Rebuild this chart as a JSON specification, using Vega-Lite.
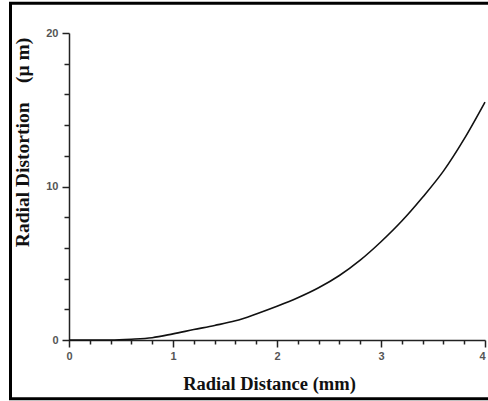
{
  "$schema": "https://vega.github.io/schema/vega-lite/v6.json",
  "width": 416,
  "height": 307,
  "autosize": {"type": "none"},
  "padding": {"left": 69, "top": 33, "right": 3, "bottom": 61},
  "background": "white",
  "config": {
    "view": {"stroke": null},
    "axis": {
      "domainColor": "#222",
      "domainWidth": 1.5,
      "tickColor": "#222",
      "tickWidth": 1.5,
      "grid": false,
      "labelFont": "Liberation Sans",
      "labelFontSize": 11,
      "labelFontWeight": "bold",
      "labelColor": "#555",
      "titleFont": "Liberation Serif",
      "titleFontWeight": "bold",
      "titleColor": "#111"
    }
  },
  "layer": [
    {
      "data": {"values": [{"frame": 1}]},
      "mark": {"type": "rect", "fill": null, "stroke": "black", "strokeWidth": 3, "clip": false},
      "encoding": {
        "x": {"datum": -0.5625, "type": "quantitative", "scale": {"domain": [0, 4], "nice": false, "zero": false}},
        "x2": {"datum": 4.4},
        "y": {"datum": -3.83, "type": "quantitative", "scale": {"domain": [0, 20], "nice": false, "zero": false}},
        "y2": {"datum": 21.94}
      }
    },
    {
      "data": {
        "values": [
          {"distance": 0.0, "distortion": 0.0},
          {"distance": 0.4, "distortion": 0.0},
          {"distance": 0.6, "distortion": 0.05},
          {"distance": 0.8, "distortion": 0.15},
          {"distance": 1.0, "distortion": 0.4},
          {"distance": 1.2, "distortion": 0.68},
          {"distance": 1.4, "distortion": 0.95},
          {"distance": 1.6, "distortion": 1.25},
          {"distance": 1.8, "distortion": 1.7},
          {"distance": 2.0, "distortion": 2.2},
          {"distance": 2.2, "distortion": 2.75},
          {"distance": 2.4, "distortion": 3.4},
          {"distance": 2.6, "distortion": 4.2},
          {"distance": 2.8, "distortion": 5.2},
          {"distance": 3.0, "distortion": 6.4},
          {"distance": 3.2, "distortion": 7.75},
          {"distance": 3.4, "distortion": 9.3},
          {"distance": 3.6, "distortion": 11.0},
          {"distance": 3.8, "distortion": 13.1},
          {"distance": 4.0, "distortion": 15.5}
        ]
      },
      "mark": {"type": "line", "color": "#111", "strokeWidth": 1.6, "interpolate": "monotone"},
      "encoding": {
        "x": {
          "field": "distance",
          "type": "quantitative",
          "title": "Radial Distance (mm)",
          "axis": {
            "orient": "bottom",
            "format": "~g",
            "values": [0, 0.2, 0.4, 0.6, 0.8, 1, 1.2, 1.4, 1.6, 1.8, 2, 2.2, 2.4, 2.6, 2.8, 3, 3.2, 3.4, 3.6, 3.8, 4],
            "tickCount": 100,
            "labelOverlap": false,
            "labelFlush": false,
            "labelExpr": "datum.value % 1 === 0 ? datum.label : ''",
            "labelAlign": {"condition": {"test": "datum.value === 4", "value": "right"}, "value": "center"},
            "tickSize": {"condition": {"test": "datum.value % 1 === 0", "value": 7}, "value": 4},
            "labelPadding": 3,
            "titleFontSize": 18.5,
            "titleX": 200,
            "titleY": 43,
            "titleBaseline": "middle"
          }
        },
        "y": {
          "field": "distortion",
          "type": "quantitative",
          "title": "Radial Distortion\u00a0\u00a0\u00a0\u00a0(μ m)",
          "axis": {
            "orient": "left",
            "format": "~g",
            "values": [0, 2, 4, 6, 8, 10, 12, 14, 16, 18, 20],
            "tickCount": 100,
            "labelOverlap": false,
            "labelFlush": false,
            "labelExpr": "datum.value % 10 === 0 ? datum.label : ''",
            "tickSize": {"condition": {"test": "datum.value % 10 === 0", "value": 7}, "value": 5},
            "labelPadding": 4,
            "titleFontSize": 19.5,
            "titleX": -47,
            "titleY": 109,
            "titleBaseline": "middle"
          }
        }
      }
    }
  ]
}
